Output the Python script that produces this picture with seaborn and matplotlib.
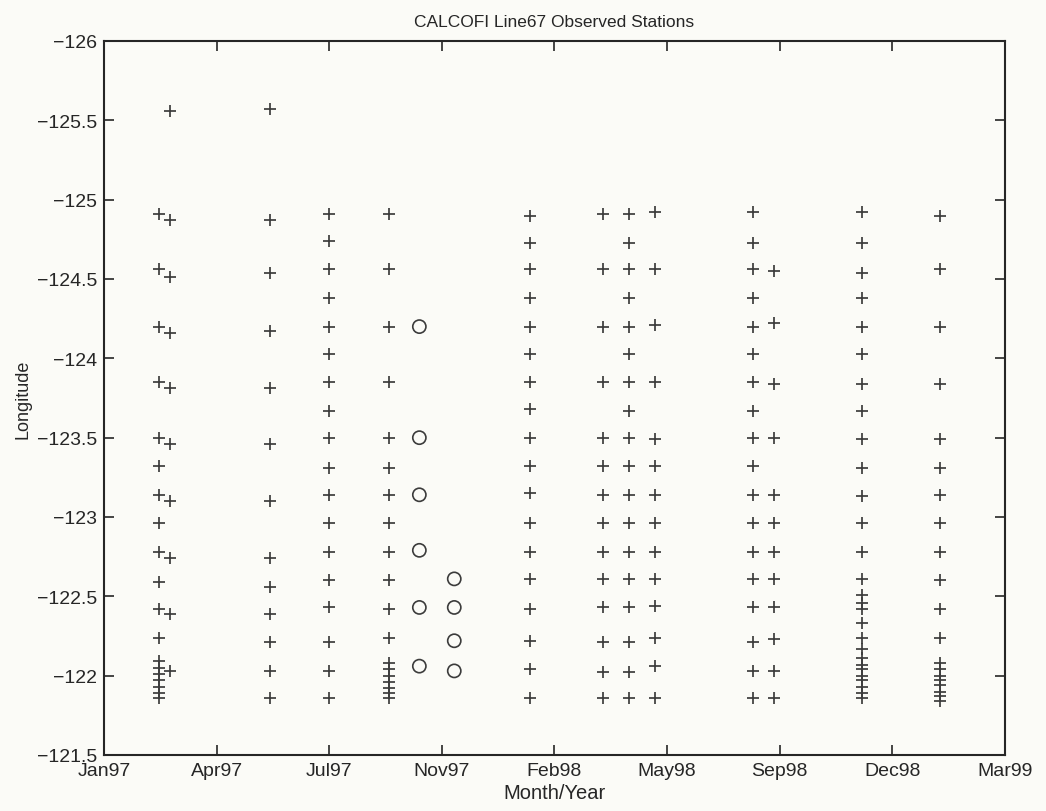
import numpy as np
import pandas as pd
import matplotlib
matplotlib.use("Agg")
import matplotlib.pyplot as plt
import seaborn as sns

# ---------------- data ----------------
cruise_dates = ["1997-02-28", "1997-03-10", "1997-06-06", "1997-07-29", "1997-09-20",
                "1998-01-23", "1998-03-29", "1998-04-21", "1998-05-14", "1998-08-09",
                "1998-08-28", "1998-11-14", "1999-01-22"]

lon_9702a = [-124.91, -124.56, -124.20, -123.85, -123.50, -123.32, -123.14, -122.96, -122.78,
             -122.59, -122.42, -122.24, -122.09, -122.05, -122.01, -121.97, -121.93, -121.89, -121.86]
lon_9702b = [-125.56, -124.87, -124.51, -124.16, -123.81, -123.46, -123.10, -122.74, -122.39, -122.03]
lon_9706 = [-125.57, -124.87, -124.54, -124.17, -123.81, -123.46, -123.10, -122.74, -122.56,
            -122.39, -122.21, -122.03, -121.86]
lon_9707 = [-124.91, -124.74, -124.56, -124.38, -124.20, -124.03, -123.85, -123.67, -123.50,
            -123.31, -123.14, -122.96, -122.78, -122.60, -122.43, -122.21, -122.03, -121.86]
lon_9709 = [-124.91, -124.56, -124.20, -123.85, -123.50, -123.31, -123.14, -122.96, -122.78,
            -122.60, -122.42, -122.24, -122.08, -122.04, -122.00, -121.96, -121.92, -121.89, -121.86]
lon_9801 = [-124.90, -124.73, -124.56, -124.38, -124.20, -124.03, -123.85, -123.68, -123.50,
            -123.32, -123.15, -122.96, -122.78, -122.61, -122.42, -122.22, -122.04, -121.86]
lon_9803 = [-124.91, -124.56, -124.20, -123.85, -123.50, -123.32, -123.14, -122.96, -122.78,
            -122.61, -122.43, -122.21, -122.02, -121.86]
lon_9804 = [-124.91, -124.73, -124.56, -124.38, -124.20, -124.03, -123.85, -123.67, -123.50,
            -123.32, -123.14, -122.96, -122.78, -122.61, -122.43, -122.21, -122.02, -121.86]
lon_9805 = [-124.92, -124.56, -124.21, -123.85, -123.49, -123.32, -123.14, -122.96, -122.78,
            -122.61, -122.44, -122.24, -122.06, -121.86]
lon_9808a = [-124.92, -124.73, -124.56, -124.38, -124.20, -124.03, -123.85, -123.67, -123.50,
             -123.32, -123.14, -122.96, -122.78, -122.61, -122.43, -122.21, -122.03, -121.86]
lon_9808b = [-124.55, -124.22, -123.84, -123.50, -123.14, -122.96, -122.78, -122.61, -122.43,
             -122.23, -122.03, -121.86]
lon_9811 = [-124.92, -124.73, -124.54, -124.38, -124.20, -124.03, -123.84, -123.67, -123.49,
            -123.31, -123.13, -122.96, -122.78, -122.61, -122.51, -122.46, -122.42, -122.33,
            -122.24, -122.17, -122.11, -122.07, -122.04, -122.00, -121.97, -121.93, -121.89, -121.86]
lon_9901 = [-124.90, -124.56, -124.20, -123.84, -123.49, -123.31, -123.14, -122.96, -122.78,
            -122.60, -122.42, -122.24, -122.08, -122.04, -122.00, -121.97, -121.94, -121.90,
            -121.87, -121.84]

plus_lons = [lon_9702a, lon_9702b, lon_9706, lon_9707, lon_9709, lon_9801, lon_9803,
             lon_9804, lon_9805, lon_9808a, lon_9808b, lon_9811, lon_9901]

circle_dates = ["1997-10-17", "1997-11-17"]
lon_9710c = [-124.20, -123.50, -123.14, -122.79, -122.43, -122.06]
lon_9711c = [-122.61, -122.43, -122.22, -122.03]
circle_lons = [lon_9710c, lon_9711c]

x_tick_start = "1997-01-10"
x_tick_step_days = 100
x_tick_labels = ["Jan97", "Apr97", "Jul97", "Nov97", "Feb98", "May98", "Sep98", "Dec98", "Mar99"]
y_ticks = [-126, -125.5, -125, -124.5, -124, -123.5, -123, -122.5, -122, -121.5]
y_tick_labels = ["\u2212126", "\u2212125.5", "\u2212125", "\u2212124.5", "\u2212124",
                 "\u2212123.5", "\u2212123", "\u2212122.5", "\u2212122", "\u2212121.5"]

# ---------------- build frames ----------------
plus_df = pd.DataFrame(
    [(pd.Timestamp(d), v) for d, lst in zip(cruise_dates, plus_lons) for v in lst],
    columns=["date", "lon"])
circ_df = pd.DataFrame(
    [(pd.Timestamp(d), v) for d, lst in zip(circle_dates, circle_lons) for v in lst],
    columns=["date", "lon"])

# ---------------- style ----------------
sns.set_style("white")
bg = "#fbfbf7"
ink = "#262626"
plt.rcParams["font.family"] = ["Liberation Sans", "DejaVu Sans"]
plt.rcParams["axes.unicode_minus"] = True

fig = plt.figure(figsize=(10.46, 8.12), dpi=100, facecolor=bg)
ax = fig.add_axes([104 / 1046, 1 - 756 / 812, (1005 - 104) / 1046, (756 - 42) / 812])
ax.set_facecolor(bg)

sns.scatterplot(data=plus_df, x="date", y="lon", marker="+", s=78, color="#3c3c3c",
                linewidth=1.25, ax=ax, legend=False, zorder=3)
sns.scatterplot(data=circ_df, x="date", y="lon", marker="o", s=90, facecolor="none",
                edgecolor="#3c3c3c", linewidth=1.2, ax=ax, legend=False, zorder=3)

t0 = pd.Timestamp(x_tick_start)
xticks = [t0 + pd.Timedelta(days=x_tick_step_days * i) for i in range(len(x_tick_labels))]
ax.set_xlim(xticks[0], xticks[-1])
ax.set_xticks(xticks)
ax.set_xticklabels(x_tick_labels)

ax.set_ylim(-121.5, -126)
ax.set_yticks(y_ticks)
ax.set_yticklabels(y_tick_labels)

for sp in ax.spines.values():
    sp.set_visible(True)
    sp.set_linewidth(1.5)
    sp.set_color(ink)

ax.tick_params(axis="both", which="major", direction="in", length=7, width=1.2,
               color=ink, labelcolor=ink, labelsize=14, top=True, right=True,
               bottom=True, left=True, pad=5)

ax.set_xlabel("Month/Year", fontsize=14.5, color=ink, labelpad=3)
ax.set_ylabel("Longitude", fontsize=13, color=ink, labelpad=4)
ax.set_title("CALCOFI Line67 Observed Stations", fontsize=12.5, color=ink, pad=11,
             fontfamily=["Liberation Sans Narrow", "Liberation Sans", "DejaVu Sans"])

fig.savefig("out.png", dpi=100, facecolor=bg)
